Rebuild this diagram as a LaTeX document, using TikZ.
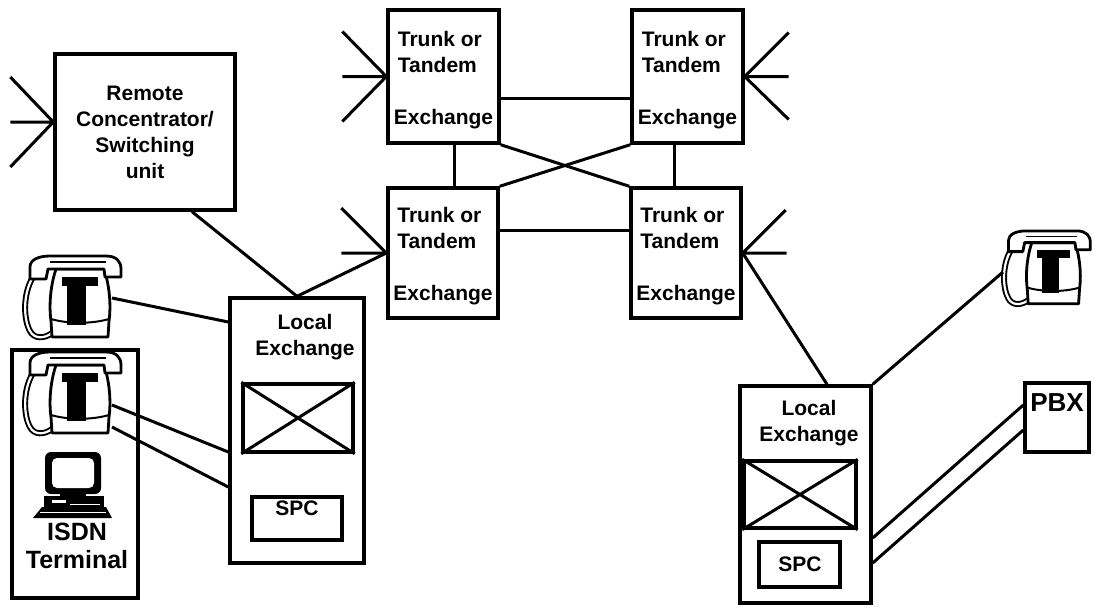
\documentclass[tikz,border=0pt]{standalone}
\usepackage{fontspec}
\setmainfont{Liberation Sans}
\usetikzlibrary{calc}

\tikzset{
  % desk telephone drawn in a local frame of about 104 x 84 units
  desk phone/.pic={
    % coiled cord
    \draw[line width=6pt,line cap=round] (15,22) .. controls (4,40) and (6,66) .. (12,76) .. controls (16,84) and (26,84) .. (34,78);
    \draw[white,line width=2.2pt,line cap=round] (15,22) .. controls (4,40) and (6,66) .. (12,76) .. controls (16,84) and (26,84) .. (34,78);
    % body and base
    \draw[fill=white,line width=2.8pt,line join=round] (38,14) .. controls (32,32) and (31,52) .. (33,66) -- (34,82) -- (90,82) -- (91,66) .. controls (93,52) and (92,32) .. (86,14) -- cycle;
    \draw[line width=2pt] (33,64) .. controls (50,69) and (74,69) .. (91,64);
    % cradle
    \fill (44,22) rectangle (80,31);
    \fill (49,28) rectangle (68,70);
    % handset
    \draw[fill=white,line width=2.8pt,line join=round] (12,24) -- (12,12) .. controls (12,5) and (20,1) .. (32,1) -- (88,1) .. controls (98,1) and (103,6) .. (103,14) -- (103,22) -- (87,22) -- (86,14) -- (30,14) -- (28,24) -- cycle;
    \draw[line width=1.2pt] (32,7) -- (88,7);
  }
}

\begin{document}
\begin{tikzpicture}[x=1pt,y=-1pt,
  every node/.style={font=\bfseries\fontsize{21}{26}\selectfont},
  box/.style={draw,line width=3.4pt,rectangle,inner sep=0pt},
  trunk/.style={box,minimum width=111pt,minimum height=133pt},
  trunktext/.style={inner sep=0pt,align=left},
  label/.style={inner sep=0pt,align=center},
  link/.style={line width=3pt},
]
\useasboundingbox (0,0) rectangle (1095,606);

% ---------- trunk / tandem exchanges ----------
\node[trunk] (tl) at (443.5,76.5) {};
\node[trunk] (tr) at (687.5,76.5) {};
\node[trunk,minimum width=110pt,minimum height=130pt] (bl) at (443,253) {};
\node[trunk,minimum width=110pt,minimum height=130pt] (br) at (686,253) {};
\foreach \t in {tl,tr,bl,br}
  \node[trunktext] (\t-text) at ([yshift=-3.5pt]\t.center)
    {\hspace*{4pt}Trunk or\\\hspace*{4pt}Tandem\\[26pt]Exchange};

% ---------- remote concentrator ----------
\node[box,minimum width=180pt,minimum height=156pt,align=center] (remote) at (145,132)
  {Remote\\Concentrator/\\Switching\\unit};

% ---------- left local exchange ----------
\node[box,minimum width=134pt,minimum height=265pt] (le1) at (297,430.5) {};
\node[label] (le1t) at (305,337) {Local\\Exchange};
\node[box,minimum width=110pt,minimum height=68pt] (sw1) at (298,418) {};
\draw[link] (sw1.north west) -- (sw1.south east) (sw1.north east) -- (sw1.south west);
\node[box,minimum width=90pt,minimum height=43pt] (spc1) at (297,518.5) {};
\node[label] (spc1t) at (297,508.5) {SPC};

% ---------- right local exchange ----------
\node[box,minimum width=131pt,minimum height=217pt] (le2) at (805.5,494.5) {};
\node[label] (le2t) at (809,423) {Local\\Exchange};
\node[box,minimum width=112pt,minimum height=67pt] (sw2) at (800,494.5) {};
\draw[link] (sw2.north west) -- (sw2.south east) (sw2.north east) -- (sw2.south west);
\node[box,minimum width=81pt,minimum height=45pt] (spc2) at (799.5,564.5) {};
\node[label] (spc2t) at (800,564) {SPC};

% ---------- PBX ----------
\node[box,minimum width=64pt,minimum height=69pt] (pbx) at (1057,417.5) {};
\node[label,font=\bfseries\fontsize{26}{30}\selectfont] (pbxt) at (1057,403) {PBX};

% ---------- ISDN terminal ----------
\node[box,minimum width=126pt,minimum height=248pt] (isdn) at (75,474) {};
\node[label,font=\bfseries\fontsize{25}{28}\selectfont] (isdnt) at (77,546) {ISDN\\Terminal};

% telephones
\pic at (18,255) {desk phone};
\pic at (18,351) {desk phone};
\pic[scale=0.9] at (997.6,230) {desk phone};

% computer terminal
\fill[rounded corners=6pt] (45,452) rectangle (101,494);
\fill[white,rounded corners=5pt] (52,458) rectangle (94,488);
\fill (60,493) rectangle (86,497);
\fill (44,496) rectangle (104,508);
\fill[white] (52,500) rectangle (66,503);
\fill[white] (70,503.5) rectangle (100,505);
\fill (42,507) -- (106,507) -- (112,518) -- (33,518) -- cycle;
\fill[white] (40,511.5) rectangle (106,512.8);

% connection points on the telephones
\coordinate (p1) at (112,298);
\coordinate (p2a) at (112,405);
\coordinate (p2b) at (112,427);
\coordinate (p3) at (1003,272);

% ---------- trunk mesh ----------
\draw[link] ([yshift=-21.5pt]tl.east) -- ([yshift=-21.5pt]tl.east -| tr.west);
\draw[link] ([yshift=23pt]bl.east) -- ([yshift=23pt]bl.east -| br.west);
\draw[link] ([xshift=10.5pt]tl.south) -- ([xshift=10.5pt]tl.south |- bl.north);
\draw[link] ([xshift=-13.5pt]tr.south) -- ([xshift=-13.5pt]tr.south |- br.north);
\draw[link] (tl.south east) -- (br.north west);
\draw[link] (tr.south west) -- (bl.north east);

% ---------- outgoing routes ----------
\draw[link] ([yshift=10pt]remote.west) -- ++(-43,-45)
            ([yshift=10pt]remote.west) -- ++(-43,0)
            ([yshift=10pt]remote.west) -- ++(-43,45);
\draw[link] (tl.west) -- ++(-44,-45) (tl.west) -- ++(-44,0) (tl.west) -- ++(-44,45);
\draw[link] (tr.east) -- ++(44,-44) (tr.east) -- ++(44,0) (tr.east) -- ++(44,43);
\draw[link] (bl.west) -- ++(-45,-45) (bl.west) -- ++(-45,0);
\draw[link] (br.east) -- ++(43,-43) (br.east) -- ++(44,0);

% ---------- access links ----------
\draw[link] ([xshift=47pt]remote.south) -- (le1.north);
\draw[link] (le1.north) -- (bl.west);
\draw[link] (br.east) -- ([xshift=21.5pt]le2.north);
\draw[link] (le2.north east) -- (p3);
\draw[link] (p1) -- ([yshift=108.5pt]le1.west);
\draw[link] (p2a) -- ([yshift=-21.5pt]le1.west);
\draw[link] (p2b) -- ([yshift=-56.5pt]le1.west);
\draw[link] ([yshift=-43.5pt]le2.east) -- ([yshift=12.5pt]pbx.west);
\draw[link] ([yshift=-68.5pt]le2.east) -- ([yshift=-12.5pt]pbx.west);

\end{tikzpicture}
\end{document}
